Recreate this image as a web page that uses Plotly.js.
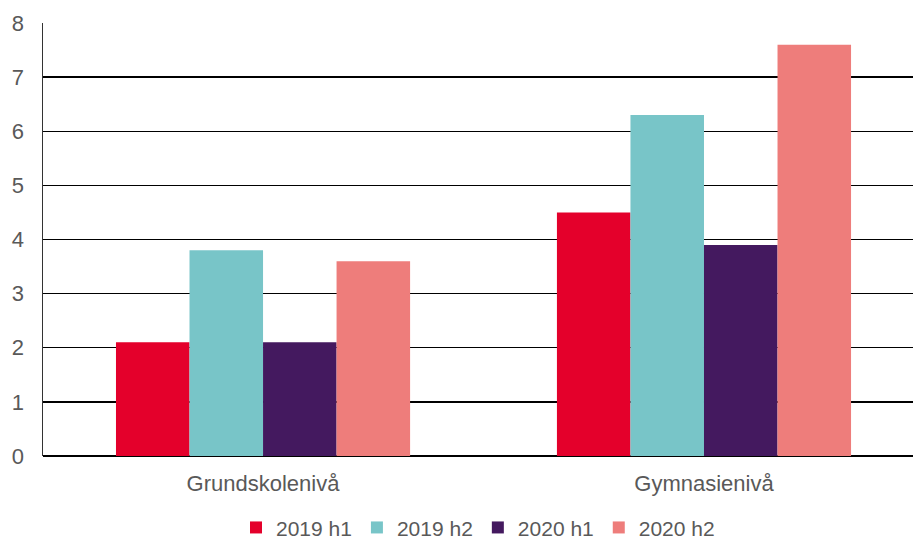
<!DOCTYPE html>
<html>
<head>
<meta charset="utf-8">
<script src="https://cdn.plot.ly/plotly-3.0.1.min.js"></script>
<style>html,body{margin:0;padding:0;background:#fff;}#chart{width:913px;height:543px;}</style>
</head>
<body>
<div id="chart"></div>
<script>
const categories = ["Grundskolenivå", "Gymnasienivå"];
const seriesNames = ["2019 h1", "2019 h2", "2020 h1", "2020 h2"];
const s2019h1 = [2.1, 4.5];
const s2019h2 = [3.8, 6.3];
const s2020h1 = [2.1, 3.9];
const s2020h2 = [3.6, 7.6];
const colors = ["#E4002B", "#78C5C8", "#44195F", "#EE7D7B"];
const yTicks = [0, 1, 2, 3, 4, 5, 6, 7, 8];

const values = [s2019h1, s2019h2, s2020h1, s2020h2];
const traces = values.map((v, i) => ({
  type: "bar",
  name: seriesNames[i],
  x: categories,
  y: v,
  marker: {color: colors[i], line: {width: 0}},
  hoverinfo: "x+y+name"
}));

const font = {family: "Liberation Sans, Arial, sans-serif", color: "#595959"};

const layout = {
  width: 913,
  height: 543,
  margin: {l: 43, r: 0, t: 23, b: 87, autoexpand: false},
  paper_bgcolor: "#fff",
  plot_bgcolor: "#fff",
  barmode: "group",
  bargap: 0.333,
  bargroupgap: 0,
  font: Object.assign({size: 22}, font),
  xaxis: {
    type: "category",
    range: [-0.499, 1.474],
    showgrid: false,
    zeroline: false,
    showline: false,
    ticks: "",
    tickfont: Object.assign({size: 22}, font),
    ticklabelstandoff: 12,
    automargin: false
  },
  yaxis: {
    range: [0, 8],
    tickvals: yTicks,
    ticktext: yTicks.map(String),
    showgrid: true,
    gridcolor: "#000",
    gridwidth: 1.3,
    zeroline: true,
    zerolinecolor: "#000",
    zerolinewidth: 1.5,
    showline: true,
    linecolor: "#333",
    linewidth: 1.5,
    ticks: "",
    tickfont: Object.assign({size: 22}, font),
    ticklabelstandoff: 13,
    automargin: false
  },
  showlegend: true,
  legend: {
    orientation: "h",
    x: 0.5,
    xanchor: "center",
    yref: "container",
    y: 0.028,
    yanchor: "middle",
    font: Object.assign({size: 21}, font),
    itemwidth: 30,
    tracegroupgap: 0
  }
};

Plotly.newPlot("chart", traces, layout, {displayModeBar: false, staticPlot: true});
</script>
</body>
</html>
